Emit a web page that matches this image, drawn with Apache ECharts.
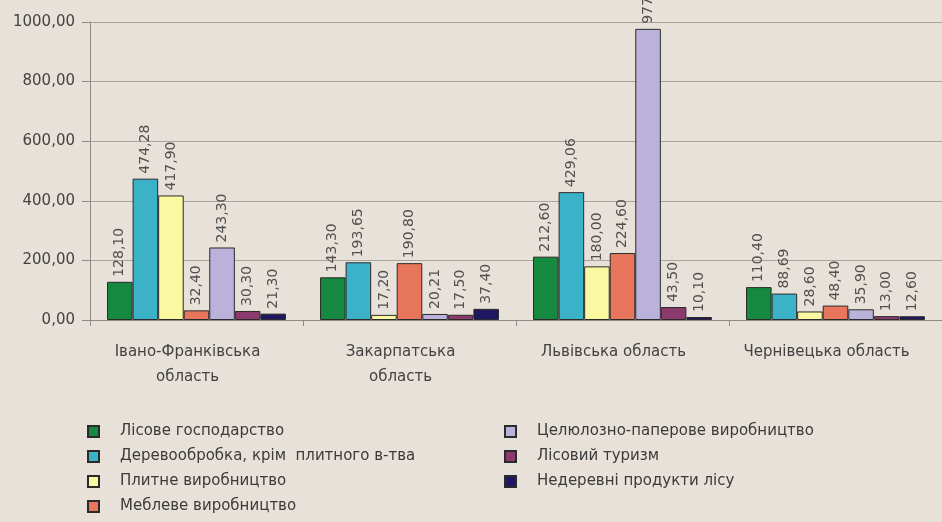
<!DOCTYPE html>
<html><head><meta charset="utf-8">
<script src="https://cdn.jsdelivr.net/npm/echarts@6/dist/echarts.min.js"></script>
<style>html,body{margin:0;padding:0;background:#e7e1d9;}#c{width:942px;height:522px;}</style>
</head><body><div id="c"></div>
<script>
const categories = ['Івано-Франківська\nобласть', 'Закарпатська\nобласть', 'Львівська область', 'Чернівецька область'];
const seriesNames = ['Лісове господарство', 'Деревообробка, крім  плитного в-тва', 'Плитне виробництво', 'Меблеве виробництво', 'Целюлозно-паперове виробництво', 'Лісовий туризм', 'Недеревні продукти лісу'];
const forestry = [128.10, 143.30, 212.60, 110.40];
const woodworking = [474.28, 193.65, 429.06, 88.69];
const panels = [417.90, 17.20, 180.00, 28.60];
const furniture = [32.40, 190.80, 224.60, 48.40];
const pulpPaper = [243.30, 20.21, 977.00, 35.90];
const tourism = [30.30, 17.50, 43.50, 13.00];
const nonWood = [21.30, 37.40, 10.10, 12.60];
const yTicks = [0, 200, 400, 600, 800, 1000];

const values = [forestry, woodworking, panels, furniture, pulpPaper, tourism, nonWood];
const colors = ['#15893f', '#3cb2c8', '#fbf8a2', '#e8765d', '#bab2da', '#8a3a6c', '#1f1762'];
const fmt = v => v.toFixed(2).replace('.', ',');
const FONT = 'DejaVu Sans';

const chart = echarts.init(document.getElementById('c'));
const legendText = { fontFamily: FONT, fontSize: 15, color: '#3a3a3a', lineHeight: 14, padding: [0, 0, 0, 16] };
chart.setOption({
  backgroundColor: '#e7e1d9',
  animation: false,
  grid: { left: 90, top: 22, width: 856, height: 298, containLabel: false },
  legend: [
    { orient: 'vertical', left: 82, top: 419, icon: 'rect', itemWidth: 11, itemHeight: 11, itemGap: 10,
      data: seriesNames.slice(0, 4), textStyle: legendText },
    { orient: 'vertical', left: 499, top: 419, icon: 'rect', itemWidth: 11, itemHeight: 11, itemGap: 10,
      data: seriesNames.slice(4), textStyle: legendText }
  ],
  xAxis: {
    type: 'category', data: categories,
    axisLine: { lineStyle: { color: '#8f8a85' } },
    axisTick: { show: true, interval: 0, length: 6, alignWithLabel: false, lineStyle: { color: '#8f8a85' } },
    axisLabel: { interval: 0, hideOverlap: false, fontFamily: FONT, fontSize: 15, color: '#424242', lineHeight: 25, margin: 20, padding: [0, 18, 0, 0] }
  },
  yAxis: {
    type: 'value', min: yTicks[0], max: yTicks[yTicks.length - 1], interval: 200,
    axisLine: { show: true, lineStyle: { color: '#8f8a85' } },
    axisTick: { show: true, length: 8, lineStyle: { color: '#8f8a85' } },
    splitLine: { lineStyle: { color: '#a8a39d', width: 1 } },
    axisLabel: { fontFamily: FONT, fontSize: 15, color: '#424242', margin: 15, formatter: v => fmt(v) }
  },
  series: seriesNames.map((n, i) => ({
    name: n, type: 'bar', data: values[i],
    barGap: '0%', barCategoryGap: '16%',
    itemStyle: { color: colors[i], borderColor: '#2a2a2a', borderWidth: 1 },
    label: { show: true, position: 'top', rotate: 90, align: 'left', verticalAlign: 'middle', distance: 5,
      fontFamily: FONT, fontSize: 14, color: '#505050', formatter: p => fmt(p.value) }
  }))
});
</script></body></html>
